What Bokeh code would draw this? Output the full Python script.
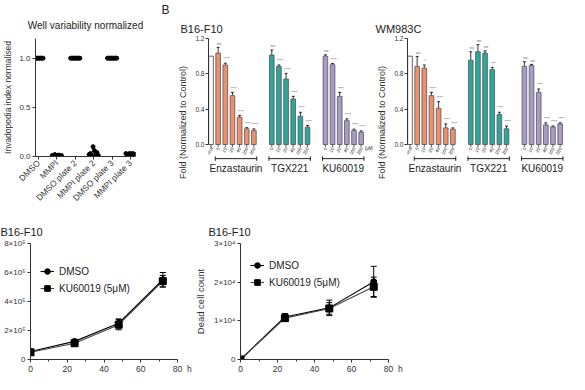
import numpy as np
from bokeh.plotting import figure
from bokeh.layouts import row, column
from bokeh.models import (Range1d, FixedTicker, Legend, LegendItem,
                          Whisker, TeeHead, ColumnDataSource, Title)
from bokeh.core.properties import value
from bokeh.embed import file_html
from bokeh.resources import INLINE

FONT = "Liberation Sans"
INK = "#222222"
AX = "#333333"

# ---------------- Panel A data ----------------
a_groups = ["DMSO", "MMPI", "DMSO plate 2", "MMPI plate 2", "DMSO plate 3", "MMPI plate 3"]
a_dmso = [1.0, 1.0, 1.0, 1.0, 1.0, 1.0, 1.0, 1.0]
a_mmpi = [0.01, 0.0, 0.02, 0.01, 0.005, 0.015, 0.0, 0.01]
a_dmso2 = [1.0, 1.0, 1.0, 1.0, 1.0, 1.0, 1.0, 1.0]
a_mmpi2 = [0.02, 0.03, 0.01, 0.10, 0.06, 0.02, 0.04, 0.01]
a_dmso3 = [1.0, 1.0, 1.0, 1.0, 1.0, 1.0, 1.0, 1.0]
a_mmpi3 = [0.03, 0.02, 0.025, 0.03, 0.02, 0.03, 0.025, 0.02]
a_values = [a_dmso, a_mmpi, a_dmso2, a_mmpi2, a_dmso3, a_mmpi3]

# ---------------- Panel B data ----------------
b_groups = ["Enzastaurin", "TGX221", "KU60019"]
b_doses = ["5", "10", "20", "40", "100", "200"]
b_colors = ["#EE8F6E", "#2BA79B", "#A99AC8"]

b16_control = 1.0
b16_enza = [1.035, 0.90, 0.553, 0.31, 0.177, 0.158]
b16_enza_err = [0.065, 0.02, 0.037, 0.02, 0.013, 0.019]
b16_enza_sig = ["ns", "****", "****", "****", "****", "****"]
b16_tgx = [1.012, 0.884, 0.741, 0.515, 0.32, 0.196]
b16_tgx_err = [0.058, 0.016, 0.064, 0.03, 0.045, 0.018]
b16_tgx_sig = ["ns", "****", "****", "****", "****", "****"]
b16_ku = [1.0, 0.903, 0.545, 0.27, 0.158, 0.139]
b16_ku_err = [0.015, 0.015, 0.045, 0.02, 0.015, 0.015]
b16_ku_sig = ["ns", "****", "****", "****", "****", "****"]

wm_control = 1.0
wm_enza = [0.884, 0.865, 0.553, 0.41, 0.188, 0.173]
wm_enza_err = [0.113, 0.035, 0.037, 0.075, 0.045, 0.015]
wm_enza_sig = ["ns", "*", "****", "****", "****", "****"]
wm_tgx = [0.955, 1.05, 1.035, 0.847, 0.339, 0.177]
wm_tgx_err = [0.095, 0.08, 0.025, 0.026, 0.026, 0.03]
wm_tgx_sig = ["ns", "ns", "ns", "***", "****", "****"]
wm_ku = [0.884, 0.895, 0.59, 0.222, 0.199, 0.233]
wm_ku_err = [0.053, 0.012, 0.038, 0.023, 0.011, 0.012]
wm_ku_sig = ["ns", "ns", "****", "****", "****", "****"]

# ---------------- Panel C data ----------------
hours = [0, 24, 48, 72]
dmso_total = [55000, 125000, 250000, 550000]
dmso_total_err = [5000, 10000, 30000, 50000]
ku_total = [50000, 112000, 240000, 540000]
ku_total_err = [5000, 15000, 35000, 40000]

dmso_dead = [0, 11000, 13350, 20100]
dmso_dead_err = [200, 900, 2000, 4000]
ku_dead = [0, 10700, 13200, 18800]
ku_dead_err = [200, 800, 1500, 2500]

NB = "\u00a0"


def style_axes(p, size="8px"):
    p.grid.visible = False
    p.outline_line_color = None
    p.background_fill_color = "white"
    p.border_fill_color = "white"
    for ax in p.axis:
        ax.axis_line_color = AX
        ax.major_tick_line_color = AX
        ax.minor_tick_line_color = None
        ax.major_tick_out = 3
        ax.major_tick_in = 0
        ax.major_label_text_font = FONT
        ax.major_label_text_font_size = size
        ax.major_label_text_color = AX
        ax.axis_label_text_font = FONT
        ax.axis_label_text_font_style = "normal"
        ax.axis_label_text_color = AX
        ax.major_label_standoff = 2


def style_title(p, size, offset, standoff):
    p.title.text_font = FONT
    p.title.text_font_size = size
    p.title.text_font_style = "normal"
    p.title.text_color = INK
    p.title.align = "left"
    p.title.offset = offset
    p.title.standoff = standoff


# ================= Panel A =================
pA = figure(frame_width=100, frame_height=118, x_range=Range1d(-0.16, 5.27), y_range=Range1d(0, 1.2),
            output_backend="svg", toolbar_location=None, title="Well variability normalized",
            min_border_left=35, min_border_right=25, min_border_top=35, min_border_bottom=50)
for i, vals in enumerate(a_values):
    xs = i + np.linspace(-0.25, 0.25, len(vals))
    pA.scatter(xs, vals, marker="circle", size=4, fill_color="black", line_color="black")
style_axes(pA, "8px")
style_title(pA, "10px", 0, 16)
pA.title.align = "center"
pA.title.offset = -5
pA.xaxis.ticker = FixedTicker(ticks=list(range(len(a_groups))))
pA.xaxis.major_label_overrides = {i: g for i, g in enumerate(a_groups)}
pA.xaxis.major_label_orientation = np.pi / 4
pA.xaxis.major_label_text_font_size = "8.5px"
pA.yaxis.ticker = FixedTicker(ticks=[0.0, 0.5, 1.0])
pA.yaxis.major_label_overrides = {0.0: "0.0", 0.5: "0.5", 1.0: "1.0"}
pA.yaxis.axis_label = "Invadopodia index normalised"
pA.yaxis.axis_label_text_font_size = "8.5px"
pA.yaxis.axis_label_standoff = 3

B_PX = 7.15          # px per bar slot
B_YPX = 106 / 1.2    # px per unit on the fold axis
B_FH = 168


# ================= Panel B =================
def bar_panel(frame_w, min_left, title, control, series, errs, sigs, letter=None):
    x_end = -0.35 + frame_w / B_PX
    p = figure(frame_width=frame_w, frame_height=B_FH, x_range=Range1d(-0.35, x_end),
               y_range=Range1d(-(B_FH - 106) / B_YPX, 1.2),
               title=letter if letter else title,
               output_backend="svg", toolbar_location=None, x_axis_location=None,
               min_border_left=min_left, min_border_right=0, min_border_top=35, min_border_bottom=0)
    starts = [1, 8.5, 16]
    p.vbar(x=[0], top=[control], width=0.65, fill_color="white", line_color="#555555", line_width=0.9)
    p.segment(x0=[0], x1=[0], y0=[0], y1=[-0.03], line_color=AX, line_width=0.8)
    p.text(x=[0.1], y=[-0.03], text=["Control"], angle=np.pi / 3.2, text_align="right",
           text_baseline="middle", text_font=value(FONT), text_font_size="5px", text_color=INK)
    for g in range(3):
        xs = [starts[g] + i for i in range(len(series[g]))]
        ups = [v + e for v, e in zip(series[g], errs[g])]
        src = ColumnDataSource(dict(x=xs, top=series[g], up=ups, sig=sigs[g], dose=b_doses,
                                    sx=[x + 0.15 for x in xs], sy=[u + 0.02 for u in ups]))
        p.vbar(x="x", top="top", width=0.65, source=src, fill_color=b_colors[g],
               line_color="#555555", line_width=0.8)
        p.add_layout(Whisker(source=src, base="x", lower="top", upper="up", line_color="black",
                             line_width=0.8, upper_head=TeeHead(size=3, line_color="black", line_width=0.8),
                             lower_head=None))
        p.text(x="sx", y="sy", text="sig", source=src, text_align="center", text_baseline="bottom",
               text_font=value(FONT), text_font_size="4px", text_color="#555555")
        p.segment(x0="x", x1="x", y0=0, y1=-0.03, source=src, line_color=AX, line_width=0.8)
        p.text(x="x", y=-0.035, text="dose", source=src, angle=np.pi / 3, text_align="right",
               text_baseline="middle", text_font=value(FONT), text_font_size="4.5px", text_color=INK)
        x0, x1 = xs[0] - 0.4, xs[-1] + 0.4
        p.segment(x0=[x0], x1=[x1], y0=[-0.16], y1=[-0.16], line_color=INK, line_width=1)
        p.segment(x0=[x0, x1], x1=[x0, x1], y0=[-0.135, -0.135], y1=[-0.185, -0.185],
                  line_color=INK, line_width=1)
        p.text(x=[(xs[0] + xs[-1]) / 2], y=[-0.27], text=[b_groups[g]], text_align="center",
               text_baseline="middle", text_font=value(FONT), text_font_size="10px", text_color=INK)
    if letter:
        p.text(x=[21.5], y=[-0.05], text=["(μM)"], text_align="left", text_baseline="middle",
               text_font=value(FONT), text_font_size="4.5px", text_color=INK)
    style_axes(p, "6.5px")
    p.yaxis.bounds = (0, 1.2)
    p.yaxis.ticker = FixedTicker(ticks=[0.0, 0.4, 0.8, 1.2])
    p.yaxis.major_label_overrides = {0.0: "0.0", 0.4: "0.4", 0.8: "0.8", 1.2: "1.2"}
    p.yaxis.axis_label = "Fold (Normalized to Control)"
    p.yaxis.axis_label_text_font_size = "9px"
    p.yaxis.axis_label_standoff = 4
    p.yaxis.major_label_standoff = 1
    if letter:
        style_title(p, "12px", -47, 0)
        p.add_layout(Title(text=title, align="left", offset=-28, standoff=8, text_font=FONT,
                           text_font_size="11px", text_font_style="normal", text_color=INK), "above")
    else:
        style_title(p, "11px", -32, 8)
    return p


pB1 = bar_panel(165, 48, "B16-F10", b16_control, [b16_enza, b16_tgx, b16_ku],
                [b16_enza_err, b16_tgx_err, b16_ku_err], [b16_enza_sig, b16_tgx_sig, b16_ku_sig], "B")
pB2 = bar_panel(158, 34, "WM983C", wm_control, [wm_enza, wm_tgx, wm_ku],
                [wm_enza_err, wm_tgx_err, wm_ku_err], [wm_enza_sig, wm_tgx_sig, wm_ku_sig])

C_FH = 116


# ================= Panel C =================
def line_panel(frame_w, min_left, min_right, y_end, yticks, ylabels, d1, e1, d2, e2, ylabel, leg_y, title_off):
    p = figure(frame_width=frame_w, frame_height=C_FH, x_range=Range1d(0, 80), y_range=Range1d(0, y_end),
               output_backend="svg", toolbar_location=None, title="B16-F10",
               min_border_left=min_left, min_border_right=min_right, min_border_top=37, min_border_bottom=14)
    src1 = ColumnDataSource(dict(x=hours, y=d1, lo=[a - b for a, b in zip(d1, e1)], hi=[a + b for a, b in zip(d1, e1)]))
    src2 = ColumnDataSource(dict(x=hours, y=d2, lo=[a - b for a, b in zip(d2, e2)], hi=[a + b for a, b in zip(d2, e2)]))
    for src in (src1, src2):
        p.add_layout(Whisker(source=src, base="x", lower="lo", upper="hi", line_color="black", line_width=1,
                             upper_head=TeeHead(size=6, line_color="black", line_width=1),
                             lower_head=TeeHead(size=6, line_color="black", line_width=1)))
    l1 = p.line("x", "y", source=src1, line_color="black", line_width=1.1)
    s1 = p.scatter("x", "y", source=src1, marker="circle", size=6, fill_color="black", line_color="black")
    l2 = p.line("x", "y", source=src2, line_color="#444444", line_width=1.1)
    s2 = p.scatter("x", "y", source=src2, marker="square", size=7, fill_color="black", line_color="black")
    style_axes(p, "8px")
    style_title(p, "11px", title_off, 12)
    p.xaxis.ticker = FixedTicker(ticks=[0, 20, 40, 60, 80], minor_ticks=[10, 30, 50, 70])
    p.xaxis.major_label_overrides = {80: NB * 4 + "80" + NB * 2 + "h"}
    p.xaxis.minor_tick_line_color = AX
    p.xaxis.minor_tick_out = 2
    p.xaxis.minor_tick_in = 0
    p.xaxis.major_label_text_font_size = "8.5px"
    p.xaxis.major_label_standoff = 1
    p.yaxis.ticker = FixedTicker(ticks=yticks)
    p.yaxis.major_label_overrides = dict(zip(yticks, ylabels))
    if ylabel:
        p.yaxis.axis_label = ylabel
        p.yaxis.axis_label_text_font_size = "9.5px"
        p.yaxis.axis_label_standoff = 5
    leg = Legend(items=[LegendItem(label="DMSO", renderers=[l1, s1]),
                        LegendItem(label="KU60019 (5μM)", renderers=[l2, s2])],
                 location=(10, leg_y), padding=0, spacing=3, label_height=14, glyph_height=14,
                 glyph_width=14, label_standoff=5, border_line_color=None, background_fill_alpha=0,
                 label_text_font=FONT, label_text_font_size="10px", label_text_color=INK)
    p.add_layout(leg)
    return p


pC1 = line_panel(147, 30, 15, 800000, [0, 200000, 400000, 600000, 800000],
                 ["0", "2×10⁵", "4×10⁵", "6×10⁵", "8×10⁵"],
                 dmso_total, dmso_total_err, ku_total, ku_total_err, None, 64, -30)
pC2 = line_panel(148, 45, 180, 30000, [0, 10000, 20000, 30000],
                 ["0", "1×10⁴", "2×10⁴", "3×10⁴"],
                 dmso_dead, dmso_dead_err, ku_dead, ku_dead_err, "Dead cell count", 70, -32)

layout = column(row(pA, pB1, pB2), row(pC1, pC2))
open("out.html", "w").write(file_html(layout, INLINE))
